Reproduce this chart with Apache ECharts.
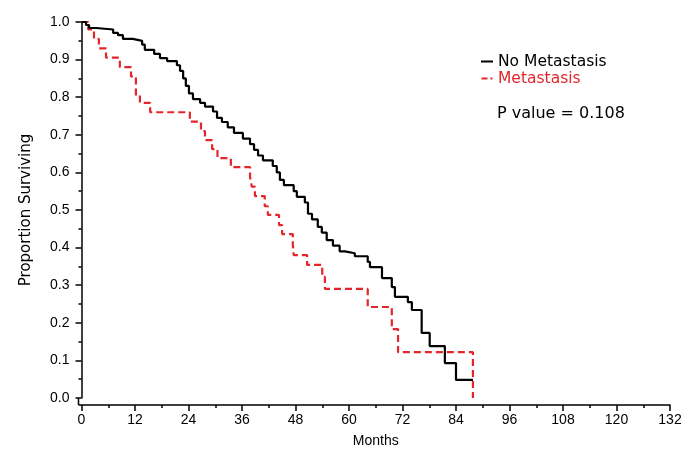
<!DOCTYPE html>
<html>
<head>
<meta charset="utf-8">
<script src="https://cdn.jsdelivr.net/npm/echarts@6/dist/echarts.min.js"></script>
<style>
  html, body { margin: 0; padding: 0; background: #fff; }
  #km { width: 700px; height: 465px; }
</style>
</head>
<body>
<div id="km"></div>
<script>
var kmChart = echarts.init(document.getElementById("km"));

// months / proportion surviving (value after each step)
var noMetMonths = [0, 1.0, 1.7, 3.3, 7.1, 8.2, 9.3, 11.5, 13.6, 14.2, 16.3, 17.6, 19.2, 21.4, 22.1, 22.8, 23.4, 24.1, 25.0, 26.6, 27.7, 29.5, 30.4, 31.5, 32.8, 34.2, 36.2, 37.8, 38.7, 39.6, 40.7, 42.9, 43.8, 44.5, 45.4, 47.6, 48.3, 50.1, 50.8, 51.7, 53.0, 53.9, 55.0, 56.4, 57.9, 59.1, 61.3, 64.2, 64.7, 67.4, 69.6, 70.3, 73.2, 74.1, 76.3, 78.1, 81.5, 84.0, 87.8];
var noMetSurv = [1, 0.992, 0.984, 0.98, 0.971, 0.965, 0.955, 0.95, 0.94, 0.926, 0.915, 0.904, 0.896, 0.885, 0.87, 0.85, 0.83, 0.81, 0.795, 0.785, 0.775, 0.762, 0.745, 0.734, 0.72, 0.705, 0.69, 0.675, 0.66, 0.645, 0.632, 0.617, 0.6, 0.58, 0.566, 0.55, 0.535, 0.52, 0.49, 0.475, 0.455, 0.44, 0.42, 0.405, 0.39, 0.385, 0.377, 0.362, 0.348, 0.319, 0.295, 0.269, 0.255, 0.234, 0.173, 0.138, 0.093, 0.048, 0.048];

var metMonths = [0, 1.5, 2.8, 3.9, 5.5, 8.6, 11.1, 12.2, 13.1, 15.4, 24.3, 26.8, 27.7, 29.3, 30.5, 33.5, 37.8, 38.2, 38.9, 41.1, 41.8, 44.3, 45.0, 47.4, 47.6, 50.6, 54.0, 54.6, 64.2, 69.6, 71.0, 87.8];
var metSurv = [1, 0.98, 0.955, 0.93, 0.905, 0.88, 0.855, 0.806, 0.785, 0.76, 0.735, 0.71, 0.686, 0.662, 0.638, 0.614, 0.588, 0.562, 0.537, 0.51, 0.487, 0.46, 0.436, 0.408, 0.38, 0.354, 0.322, 0.29, 0.242, 0.183, 0.122, 0];

var seriesNames = ['No Metastasis', 'Metastasis'];
var pValueText = 'P value = 0.108';

function pairs(xs, ys) {
    var out = [];
    for (var i = 0; i < xs.length; i++) out.push([xs[i], ys[i]]);
    return out;
}

var font = 'Liberation Sans';
var wideFont = 'DejaVu Sans';

option = {
    backgroundColor: '#fff',
    animation: false,
    textStyle: { fontFamily: font },
    grid: { left: 81.5, right: 30, top: 22, bottom: 67 },
    legend: {
        orient: 'vertical',
        left: 476,
        top: 48,
        itemWidth: 12,
        itemHeight: 2,
        itemGap: 0,
        textStyle: { fontSize: 15.5, lineHeight: 17, fontFamily: wideFont },
        data: [
            { name: seriesNames[0], icon: 'rect', itemStyle: { color: '#000' }, textStyle: { color: '#000' } },
            { name: seriesNames[1], icon: 'path://M0,0H6V2H0Z M9,0H11V2H9Z', itemStyle: { color: '#e4262b' }, textStyle: { color: '#e4262b' } }
        ]
    },
    graphic: [{
        type: 'text',
        left: 497,
        top: 106,
        style: { text: pValueText, fontSize: 16, fontFamily: wideFont, fill: '#000' }
    }],
    xAxis: {
        type: 'value',
        min: 0,
        max: 132,
        interval: 12,
        offset: 7,
        name: 'Months',
        nameLocation: 'middle',
        nameGap: 29,
        nameTextStyle: { fontSize: 14, color: '#000' },
        axisLine: { onZero: false, lineStyle: { color: '#000', width: 1.5 } },
        axisTick: { length: 6, lineStyle: { color: '#000', width: 1.5 } },
        minorTick: { show: true, splitNumber: 2, length: 3, lineStyle: { color: '#000', width: 1.5 } },
        axisLabel: { fontSize: 14, color: '#000', margin: 8 },
        splitLine: { show: false }
    },
    yAxis: {
        type: 'value',
        min: 0,
        max: 1,
        interval: 0.1,
        offset: 3,
        name: 'Proportion Surviving',
        nameLocation: 'middle',
        nameGap: 45,
        nameTextStyle: { fontSize: 15, fontFamily: wideFont, color: '#000' },
        axisLine: { show: true, lineStyle: { color: '#000', width: 1.5 } },
        axisTick: { show: true, length: 6, lineStyle: { color: '#000', width: 1.5 } },
        minorTick: { show: true, splitNumber: 2, length: 3, lineStyle: { color: '#000', width: 1.5 } },
        axisLabel: { fontSize: 14, color: '#000', margin: 9, formatter: function (v) { return v.toFixed(1); } },
        splitLine: { show: false }
    },
    series: [
        {
            name: seriesNames[0],
            type: 'line',
            step: 'end',
            symbol: 'none',
            color: '#000',
            lineStyle: { color: '#000', width: 2.2 },
            data: pairs(noMetMonths, noMetSurv),
            z: 3
        },
        {
            name: seriesNames[1],
            type: 'line',
            step: 'end',
            symbol: 'none',
            color: '#e4262b',
            lineStyle: { color: '#e4262b', width: 2.2, type: [7, 4] },
            data: pairs(metMonths, metSurv),
            z: 2
        }
    ]
};

kmChart.setOption(option);

// close the gap between the offset y axis and the offset x axis
var gridRect = kmChart.getModel().getComponent('grid').coordinateSystem.getRect();
kmChart.setOption({
    graphic: [option.graphic[0], {
        type: 'line',
        shape: { x1: gridRect.x - 3, y1: gridRect.y + gridRect.height, x2: gridRect.x - 3, y2: gridRect.y + gridRect.height + 7 },
        style: { stroke: '#000', lineWidth: 1.5 }
    }, {
        type: 'line',
        shape: { x1: gridRect.x - 3, y1: gridRect.y + gridRect.height + 7, x2: gridRect.x, y2: gridRect.y + gridRect.height + 7 },
        style: { stroke: '#000', lineWidth: 1.5 }
    }]
});
</script>
</body>
</html>
